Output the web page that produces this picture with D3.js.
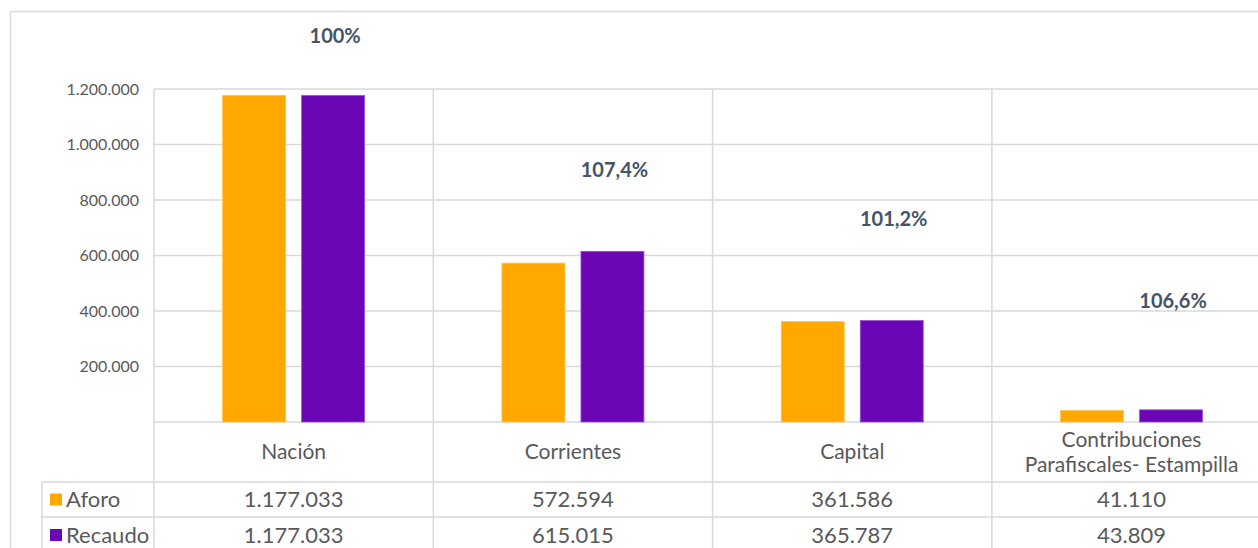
<!DOCTYPE html>
<html><head><meta charset="utf-8">
<script src="https://cdn.jsdelivr.net/npm/d3@7"></script>
<style>
html,body{margin:0;padding:0;background:#fff;overflow:hidden}
svg{display:block;font-family:Lato,"Open Sans",sans-serif}
</style></head>
<body>
<svg id="c" width="1258" height="548"></svg>
<script>
const categories = ["Nación", "Corrientes", "Capital", "Contribuciones Parafiscales- Estampilla"];
const categoryLines = [["Nación"], ["Corrientes"], ["Capital"], ["Contribuciones", "Parafiscales- Estampilla"]];
const seriesNames = ["Aforo", "Recaudo"];
const aforo = [1177033, 572594, 361586, 41110];
const recaudo = [1177033, 615015, 365787, 43809];
const pctLabels = ["100%", "107,4%", "101,2%", "106,6%"];
const pctLabelLevel = [1390000, 908000, 731000, 436000];
const yTicks = [200000, 400000, 600000, 800000, 1000000, 1200000];
const colors = ["#FFA800", "#6A06B5"];

const svg = d3.select("#c");
const W = 1258, H = 548;
const grid = "#d9d9d9";
const textCol = "#595959";

const loc = d3.formatLocale({decimal: ",", thousands: ".", grouping: [3], currency: ["", ""]});
const fmt = loc.format(",d");

const plotLeft = 154, catW = 279.3;
const x = d3.scaleBand().domain(categories).range([plotLeft, plotLeft + catW * categories.length]).padding(0);
const xs = d3.scaleBand().domain(seriesNames).range([0, x.bandwidth()]).paddingInner(16/79).paddingOuter(0.869);
const y = d3.scaleLinear().domain([0, 1200000]).range([422, 89]);

const rowCat = [422, 482], rowA = [482, 517], rowR = [517, 560];
const tableLeft = 42;

// outer border
svg.append("rect").attr("x", 10.5).attr("y", 11.5).attr("width", 1400).attr("height", 700)
  .attr("fill", "none").attr("stroke", grid).attr("stroke-width", 1.5);

// horizontal gridlines
const gl = svg.append("g");
gl.selectAll("line.h").data(yTicks).join("line")
  .attr("x1", plotLeft).attr("x2", W + 20)
  .attr("y1", d => y(d)).attr("y2", d => y(d))
  .attr("stroke", grid).attr("stroke-width", 1.5);
// baseline
gl.append("line").attr("x1", plotLeft).attr("x2", W + 20).attr("y1", y(0)).attr("y2", y(0))
  .attr("stroke", grid).attr("stroke-width", 1.5);
// vertical lines
const vx = categories.map(c => x(c)).concat([x(categories[3]) + x.bandwidth()]);
gl.selectAll("line.v").data(vx).join("line")
  .attr("x1", d => d).attr("x2", d => d).attr("y1", y(1200000)).attr("y2", H + 20)
  .attr("stroke", grid).attr("stroke-width", 1.5);
// table rows
[rowA[0], rowR[0]].forEach(yy => {
  gl.append("line").attr("x1", tableLeft).attr("x2", W + 20).attr("y1", yy).attr("y2", yy)
    .attr("stroke", grid).attr("stroke-width", 1.5);
});
gl.append("line").attr("x1", tableLeft).attr("x2", tableLeft).attr("y1", rowA[0]).attr("y2", H + 20)
  .attr("stroke", grid).attr("stroke-width", 1.5);

// y axis labels
const yAxis = d3.axisLeft(y).tickValues(yTicks).tickFormat(fmt).tickSize(0).tickPadding(15);
const ga = svg.append("g").attr("transform", `translate(${plotLeft},0)`).call(yAxis);
ga.select(".domain").remove();
ga.selectAll("text").attr("fill", textCol).style("font-size", "16px").style("font-family", "Lato");

// bars
const seriesData = [aforo, recaudo];
seriesData.forEach((vals, si) => {
  svg.append("g").selectAll("rect").data(vals).join("rect")
    .attr("x", (d, i) => x(categories[i]) + xs(seriesNames[si]))
    .attr("y", d => y(d))
    .attr("width", xs.bandwidth())
    .attr("height", d => y(0) - y(d))
    .attr("fill", colors[si])
    .attr("stroke", si === 0 ? "#ffc24d" : "#9a52d6").attr("stroke-width", 0.8);
});

// percentage labels
svg.append("g").selectAll("text").data(pctLabels).join("text")
  .attr("x", (d, i) => x(categories[i]) + xs(seriesNames[1]) + xs.bandwidth() / 2 + 2)
  .attr("y", (d, i) => y(pctLabelLevel[i]))
  .attr("dy", "0.35em").attr("text-anchor", "middle")
  .attr("fill", "#44546A").style("font-size", "20px").style("font-weight", "bold")
  .text(d => d);

// category labels
categoryLines.forEach((lines, i) => {
  const cx = x(categories[i]) + x.bandwidth() / 2;
  const cy = (rowCat[0] + rowCat[1]) / 2;
  const lh = 25;
  const t = svg.append("text").attr("text-anchor", "middle").attr("fill", textCol).style("font-size", "21px");
  lines.forEach((ln, j) => {
    t.append("tspan").attr("x", cx).attr("y", cy + (j - (lines.length - 1) / 2) * lh).attr("dy", "0.35em").text(ln);
  });
});

// table values
const rows = [{vals: aforo, r: rowA}, {vals: recaudo, r: [517, 553]}];
rows.forEach((row, si) => {
  const cy = (row.r[0] + row.r[1]) / 2;
  svg.append("g").selectAll("text").data(row.vals).join("text")
    .attr("x", (d, i) => x(categories[i]) + x.bandwidth() / 2)
    .attr("y", cy).attr("dy", "0.35em").attr("text-anchor", "middle")
    .attr("fill", textCol).style("font-size", "22px")
    .text(d => fmt(d));
  svg.append("rect").attr("x", 50).attr("y", cy - 6).attr("width", 12).attr("height", 12).attr("fill", colors[si]);
  svg.append("text").attr("x", 66).attr("y", cy).attr("dy", "0.35em")
    .attr("fill", textCol).style("font-size", "22px").text(seriesNames[si]);
});
</script>
</body></html>
